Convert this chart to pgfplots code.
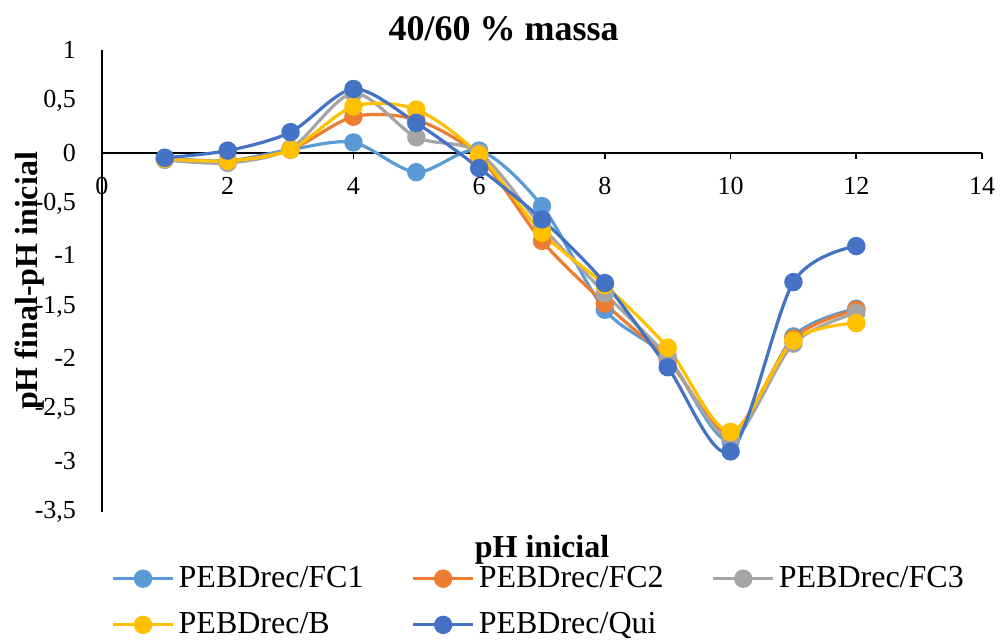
\documentclass[border=0pt]{standalone}
\usepackage{fontspec}
\setmainfont{Liberation Serif}
\usepackage{pgfplots}
\pgfplotsset{compat=1.18}

\definecolor{cFCi}{HTML}{5B9BD5}
\definecolor{cFCii}{HTML}{ED7D31}
\definecolor{cFCiii}{HTML}{A5A5A5}
\definecolor{cB}{HTML}{FFC000}
\definecolor{cQui}{HTML}{4472C4}

% pH inicial vs. (pH final - pH inicial)
\pgfplotstableread{
x   FCi    FCii   FCiii  B      Qui
1   -0.05  -0.06  -0.07  -0.06  -0.05
2   -0.08  -0.08  -0.10  -0.08   0.02
3    0.03   0.03   0.04   0.03   0.20
4    0.10   0.35   0.58   0.45   0.62
5   -0.19   0.32   0.15   0.42   0.29
6    0.02  -0.04   0.00  -0.02  -0.15
7   -0.52  -0.86  -0.72  -0.78  -0.65
8   -1.53  -1.47  -1.37  -1.29  -1.27
9   -2.00  -2.02  -1.99  -1.90  -2.09
10  -2.81  -2.73  -2.78  -2.72  -2.91
11  -1.79  -1.81  -1.86  -1.83  -1.26
12  -1.52  -1.53  -1.56  -1.66  -0.91
}\datatable

\begin{document}
\begin{tikzpicture}[x=1pt,y=1pt]
\useasboundingbox (-51,-65) rectangle (449,256);
\begin{axis}[
  at={(0,0)}, anchor=south west,
  scale only axis, width=440pt, height=231pt,
  xmin=0, xmax=14, ymin=-3.5, ymax=1,
  axis x line=middle, axis y line=left,
  axis line style={-, line width=0.9pt, black},
  hide obscured x ticks=false,
  xtick={0,2,...,14}, ytick={-3.5,-3,...,1},
  tick align=outside,
  major tick length=3pt,
  x tick style={line width=0.9pt, black},
  y tick style={draw=none},
  minor tick num=0,
  tick label style={font=\fontsize{13}{15}\selectfont},
  /pgf/number format/.cd, use comma, assume math mode=true, 1000 sep={},
  /pgfplots/.cd,
  xticklabel style={anchor=base, yshift=-18pt},
  yticklabel style={anchor=east, xshift=-6.5pt},
  title={\textbf{40/60 \% massa}},
  every axis title/.style={at={(axis description cs:0.4563,1)}, anchor=base,
    yshift=4.6pt, font=\fontsize{18}{21}\selectfont, inner sep=0pt},
  every axis x label/.style={at={(axis description cs:0.5,0)}, anchor=base,
    yshift=-22.5pt, font=\fontsize{16}{19}\selectfont\bfseries, inner sep=0pt},
  every axis y label/.style={at={(axis description cs:0,0.5)}, anchor=base,
    rotate=90, yshift=32pt, font=\fontsize{16}{19}\selectfont\bfseries, inner sep=0pt},
  xlabel={pH inicial},
  ylabel={pH final-pH inicial},
  legend columns=3,
  legend cell align=left,
  legend style={draw=none, fill=none,
    at={(axis description cs:0.0035,-0.10)}, anchor=north west,
    font=\fontsize{16}{19}\selectfont,
    row sep=7pt,
    /tikz/every even column/.append style={column sep=22pt}},
  legend image code/.code={
    \draw[#1, mark repeat=2, mark phase=2]
      plot coordinates {(0pt,0pt) (15pt,0pt) (30pt,0pt)};},
  every axis plot/.append style={line width=1.6pt, smooth, tension=0.5,
    mark=*, mark size=3.8pt},
  clip=false,
]
\addplot[color=cFCi, mark options={fill=cFCi, draw=cFCi}] table[x=x, y=FCi] {\datatable};
\addlegendentry{PEBDrec/FC1}
\addplot[color=cFCii, mark options={fill=cFCii, draw=cFCii}] table[x=x, y=FCii] {\datatable};
\addlegendentry{PEBDrec/FC2}
\addplot[color=cFCiii, mark options={fill=cFCiii, draw=cFCiii}] table[x=x, y=FCiii] {\datatable};
\addlegendentry{PEBDrec/FC3}
\addplot[color=cB, mark options={fill=cB, draw=cB}] table[x=x, y=B] {\datatable};
\addlegendentry{PEBDrec/B}
\addplot[color=cQui, mark options={fill=cQui, draw=cQui}] table[x=x, y=Qui] {\datatable};
\addlegendentry{PEBDrec/Qui}
\end{axis}
\end{tikzpicture}
\end{document}
